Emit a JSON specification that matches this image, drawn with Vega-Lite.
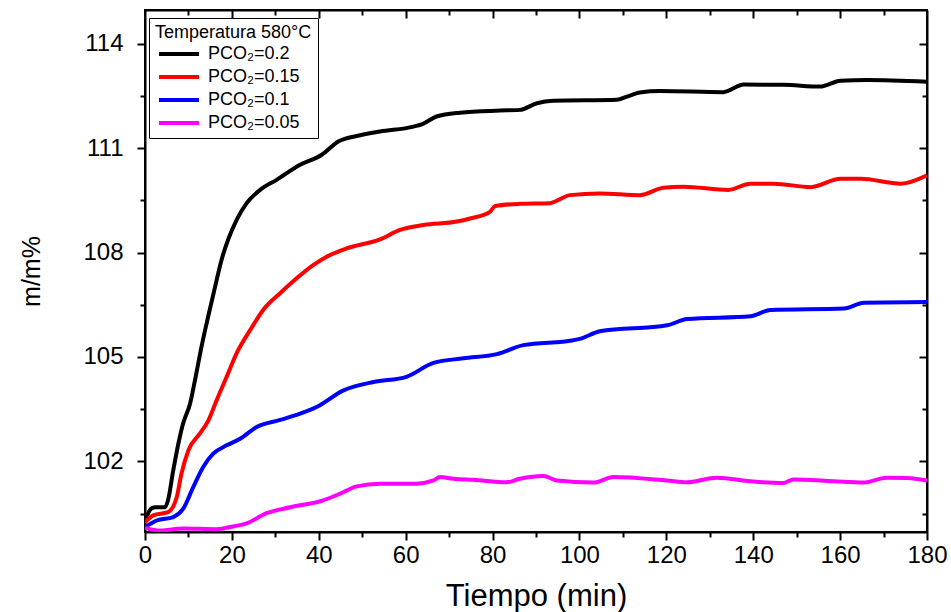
{
  "$schema": "https://vega.github.io/schema/vega-lite/v6.json",
  "width": 782,
  "height": 522,
  "autosize": {"type": "none"},
  "padding": {"left": 145, "top": 10, "right": 24, "bottom": 80},
  "background": "white",
  "config": {
    "view": {"stroke": "black", "strokeWidth": 2},
    "font": "Liberation Sans",
    "axis": {"grid": false, "domainColor": "black", "domainWidth": 2, "tickColor": "black", "tickWidth": 2, "labelColor": "black", "titleColor": "black", "labelFont": "Liberation Sans", "titleFont": "Liberation Sans", "titleFontWeight": "normal"}
  },
  "data": {"values": [
    {"t": 0, "y": 100.30, "s": "PCO₂=0.2"},
    {"t": 1.5, "y": 100.65, "s": "PCO₂=0.2"},
    {"t": 2.5, "y": 100.68, "s": "PCO₂=0.2"},
    {"t": 4.6, "y": 100.68, "s": "PCO₂=0.2"},
    {"t": 5.3, "y": 100.88, "s": "PCO₂=0.2"},
    {"t": 6.5, "y": 101.74, "s": "PCO₂=0.2"},
    {"t": 7.7, "y": 102.52, "s": "PCO₂=0.2"},
    {"t": 8.8, "y": 103.10, "s": "PCO₂=0.2"},
    {"t": 10.4, "y": 103.67, "s": "PCO₂=0.2"},
    {"t": 11.5, "y": 104.33, "s": "PCO₂=0.2"},
    {"t": 13.0, "y": 105.29, "s": "PCO₂=0.2"},
    {"t": 14.5, "y": 106.14, "s": "PCO₂=0.2"},
    {"t": 16.1, "y": 107.00, "s": "PCO₂=0.2"},
    {"t": 17.6, "y": 107.78, "s": "PCO₂=0.2"},
    {"t": 19.1, "y": 108.36, "s": "PCO₂=0.2"},
    {"t": 21.1, "y": 108.94, "s": "PCO₂=0.2"},
    {"t": 23.4, "y": 109.42, "s": "PCO₂=0.2"},
    {"t": 26.5, "y": 109.80, "s": "PCO₂=0.2"},
    {"t": 30.3, "y": 110.09, "s": "PCO₂=0.2"},
    {"t": 35.7, "y": 110.52, "s": "PCO₂=0.2"},
    {"t": 40.7, "y": 110.81, "s": "PCO₂=0.2"},
    {"t": 44.5, "y": 111.19, "s": "PCO₂=0.2"},
    {"t": 48.7, "y": 111.35, "s": "PCO₂=0.2"},
    {"t": 54.1, "y": 111.48, "s": "PCO₂=0.2"},
    {"t": 61.8, "y": 111.62, "s": "PCO₂=0.2"},
    {"t": 64.0, "y": 111.70, "s": "PCO₂=0.2"},
    {"t": 67.1, "y": 111.91, "s": "PCO₂=0.2"},
    {"t": 72.5, "y": 112.02, "s": "PCO₂=0.2"},
    {"t": 81.7, "y": 112.08, "s": "PCO₂=0.2"},
    {"t": 86.3, "y": 112.10, "s": "PCO₂=0.2"},
    {"t": 90.2, "y": 112.29, "s": "PCO₂=0.2"},
    {"t": 94.0, "y": 112.36, "s": "PCO₂=0.2"},
    {"t": 108.6, "y": 112.39, "s": "PCO₂=0.2"},
    {"t": 110.9, "y": 112.48, "s": "PCO₂=0.2"},
    {"t": 113.9, "y": 112.60, "s": "PCO₂=0.2"},
    {"t": 118.5, "y": 112.64, "s": "PCO₂=0.2"},
    {"t": 133.1, "y": 112.61, "s": "PCO₂=0.2"},
    {"t": 137.8, "y": 112.83, "s": "PCO₂=0.2"},
    {"t": 147.0, "y": 112.82, "s": "PCO₂=0.2"},
    {"t": 155.4, "y": 112.77, "s": "PCO₂=0.2"},
    {"t": 160.1, "y": 112.94, "s": "PCO₂=0.2"},
    {"t": 166.2, "y": 112.96, "s": "PCO₂=0.2"},
    {"t": 180, "y": 112.91, "s": "PCO₂=0.2"},

    {"t": 0, "y": 100.25, "s": "PCO₂=0.15"},
    {"t": 1.9, "y": 100.45, "s": "PCO₂=0.15"},
    {"t": 5.3, "y": 100.54, "s": "PCO₂=0.15"},
    {"t": 7.3, "y": 100.97, "s": "PCO₂=0.15"},
    {"t": 8.4, "y": 101.65, "s": "PCO₂=0.15"},
    {"t": 10.0, "y": 102.32, "s": "PCO₂=0.15"},
    {"t": 12.7, "y": 102.81, "s": "PCO₂=0.15"},
    {"t": 14.6, "y": 103.18, "s": "PCO₂=0.15"},
    {"t": 16.5, "y": 103.76, "s": "PCO₂=0.15"},
    {"t": 18.8, "y": 104.43, "s": "PCO₂=0.15"},
    {"t": 21.1, "y": 105.11, "s": "PCO₂=0.15"},
    {"t": 24.2, "y": 105.77, "s": "PCO₂=0.15"},
    {"t": 27.2, "y": 106.35, "s": "PCO₂=0.15"},
    {"t": 31.1, "y": 106.83, "s": "PCO₂=0.15"},
    {"t": 34.9, "y": 107.26, "s": "PCO₂=0.15"},
    {"t": 38.7, "y": 107.64, "s": "PCO₂=0.15"},
    {"t": 42.6, "y": 107.93, "s": "PCO₂=0.15"},
    {"t": 46.4, "y": 108.12, "s": "PCO₂=0.15"},
    {"t": 54.1, "y": 108.38, "s": "PCO₂=0.15"},
    {"t": 58.7, "y": 108.65, "s": "PCO₂=0.15"},
    {"t": 64.1, "y": 108.79, "s": "PCO₂=0.15"},
    {"t": 71.8, "y": 108.89, "s": "PCO₂=0.15"},
    {"t": 74.8, "y": 108.98, "s": "PCO₂=0.15"},
    {"t": 79.4, "y": 109.17, "s": "PCO₂=0.15"},
    {"t": 80.6, "y": 109.34, "s": "PCO₂=0.15"},
    {"t": 86.3, "y": 109.40, "s": "PCO₂=0.15"},
    {"t": 93.2, "y": 109.42, "s": "PCO₂=0.15"},
    {"t": 97.8, "y": 109.65, "s": "PCO₂=0.15"},
    {"t": 104.7, "y": 109.70, "s": "PCO₂=0.15"},
    {"t": 113.9, "y": 109.65, "s": "PCO₂=0.15"},
    {"t": 119.3, "y": 109.86, "s": "PCO₂=0.15"},
    {"t": 123.9, "y": 109.89, "s": "PCO₂=0.15"},
    {"t": 134.3, "y": 109.80, "s": "PCO₂=0.15"},
    {"t": 139.3, "y": 109.98, "s": "PCO₂=0.15"},
    {"t": 144.7, "y": 109.98, "s": "PCO₂=0.15"},
    {"t": 153.2, "y": 109.88, "s": "PCO₂=0.15"},
    {"t": 160.1, "y": 110.12, "s": "PCO₂=0.15"},
    {"t": 164.7, "y": 110.12, "s": "PCO₂=0.15"},
    {"t": 174.0, "y": 109.98, "s": "PCO₂=0.15"},
    {"t": 180, "y": 110.22, "s": "PCO₂=0.15"},

    {"t": 0, "y": 100.11, "s": "PCO₂=0.1"},
    {"t": 2.7, "y": 100.30, "s": "PCO₂=0.1"},
    {"t": 6.5, "y": 100.40, "s": "PCO₂=0.1"},
    {"t": 8.8, "y": 100.64, "s": "PCO₂=0.1"},
    {"t": 11.1, "y": 101.26, "s": "PCO₂=0.1"},
    {"t": 13.4, "y": 101.84, "s": "PCO₂=0.1"},
    {"t": 15.7, "y": 102.22, "s": "PCO₂=0.1"},
    {"t": 18.8, "y": 102.46, "s": "PCO₂=0.1"},
    {"t": 21.9, "y": 102.65, "s": "PCO₂=0.1"},
    {"t": 25.7, "y": 102.99, "s": "PCO₂=0.1"},
    {"t": 31.1, "y": 103.19, "s": "PCO₂=0.1"},
    {"t": 35.7, "y": 103.37, "s": "PCO₂=0.1"},
    {"t": 39.5, "y": 103.56, "s": "PCO₂=0.1"},
    {"t": 45.7, "y": 104.04, "s": "PCO₂=0.1"},
    {"t": 52.6, "y": 104.28, "s": "PCO₂=0.1"},
    {"t": 60.2, "y": 104.43, "s": "PCO₂=0.1"},
    {"t": 66.4, "y": 104.83, "s": "PCO₂=0.1"},
    {"t": 73.3, "y": 104.96, "s": "PCO₂=0.1"},
    {"t": 81.0, "y": 105.08, "s": "PCO₂=0.1"},
    {"t": 87.1, "y": 105.34, "s": "PCO₂=0.1"},
    {"t": 98.6, "y": 105.48, "s": "PCO₂=0.1"},
    {"t": 100.1, "y": 105.52, "s": "PCO₂=0.1"},
    {"t": 104.7, "y": 105.74, "s": "PCO₂=0.1"},
    {"t": 120.2, "y": 105.91, "s": "PCO₂=0.1"},
    {"t": 124.8, "y": 106.09, "s": "PCO₂=0.1"},
    {"t": 139.4, "y": 106.17, "s": "PCO₂=0.1"},
    {"t": 144.0, "y": 106.35, "s": "PCO₂=0.1"},
    {"t": 160.9, "y": 106.39, "s": "PCO₂=0.1"},
    {"t": 165.5, "y": 106.56, "s": "PCO₂=0.1"},
    {"t": 180, "y": 106.58, "s": "PCO₂=0.1"},

    {"t": 0, "y": 100.09, "s": "PCO₂=0.05"},
    {"t": 3.5, "y": 100.01, "s": "PCO₂=0.05"},
    {"t": 8.8, "y": 100.07, "s": "PCO₂=0.05"},
    {"t": 16.5, "y": 100.05, "s": "PCO₂=0.05"},
    {"t": 20.3, "y": 100.13, "s": "PCO₂=0.05"},
    {"t": 23.4, "y": 100.22, "s": "PCO₂=0.05"},
    {"t": 28.0, "y": 100.51, "s": "PCO₂=0.05"},
    {"t": 33.4, "y": 100.68, "s": "PCO₂=0.05"},
    {"t": 41.0, "y": 100.88, "s": "PCO₂=0.05"},
    {"t": 44.9, "y": 101.07, "s": "PCO₂=0.05"},
    {"t": 48.7, "y": 101.28, "s": "PCO₂=0.05"},
    {"t": 54.1, "y": 101.36, "s": "PCO₂=0.05"},
    {"t": 62.5, "y": 101.36, "s": "PCO₂=0.05"},
    {"t": 66.4, "y": 101.45, "s": "PCO₂=0.05"},
    {"t": 67.9, "y": 101.55, "s": "PCO₂=0.05"},
    {"t": 71.0, "y": 101.50, "s": "PCO₂=0.05"},
    {"t": 75.6, "y": 101.47, "s": "PCO₂=0.05"},
    {"t": 83.3, "y": 101.40, "s": "PCO₂=0.05"},
    {"t": 86.3, "y": 101.50, "s": "PCO₂=0.05"},
    {"t": 91.7, "y": 101.58, "s": "PCO₂=0.05"},
    {"t": 94.8, "y": 101.45, "s": "PCO₂=0.05"},
    {"t": 103.2, "y": 101.39, "s": "PCO₂=0.05"},
    {"t": 107.8, "y": 101.55, "s": "PCO₂=0.05"},
    {"t": 120.1, "y": 101.45, "s": "PCO₂=0.05"},
    {"t": 124.7, "y": 101.40, "s": "PCO₂=0.05"},
    {"t": 131.6, "y": 101.53, "s": "PCO₂=0.05"},
    {"t": 140.0, "y": 101.42, "s": "PCO₂=0.05"},
    {"t": 146.9, "y": 101.38, "s": "PCO₂=0.05"},
    {"t": 149.2, "y": 101.48, "s": "PCO₂=0.05"},
    {"t": 158.4, "y": 101.43, "s": "PCO₂=0.05"},
    {"t": 165.4, "y": 101.39, "s": "PCO₂=0.05"},
    {"t": 170.7, "y": 101.53, "s": "PCO₂=0.05"},
    {"t": 175.4, "y": 101.52, "s": "PCO₂=0.05"},
    {"t": 180, "y": 101.45, "s": "PCO₂=0.05"}
  ]},
  "resolve": {"axis": {"x": "independent", "y": "independent"}},
  "layer": [
    {
      "mark": {"type": "line", "strokeWidth": 4, "interpolate": "monotone", "clip": true},
      "encoding": {
        "x": {"field": "t", "type": "quantitative", "scale": {"domain": [0, 180], "nice": false, "zero": false},
          "axis": {"orient": "bottom", "values": [0, 20, 40, 60, 80, 100, 120, 140, 160, 180], "tickSize": 8, "labelFontSize": 24, "labelPadding": 3, "title": "Tiempo (min)", "titleFontSize": 31, "titlePadding": 14, "labelFlush": false}},
        "y": {"field": "y", "type": "quantitative", "scale": {"domain": [99.97, 114.97], "nice": false, "zero": false},
          "axis": {"orient": "left", "values": [102, 105, 108, 111, 114], "tickSize": 8, "labelFontSize": 24, "labelPadding": 14, "title": "m/m%", "titleFontSize": 25, "titlePadding": 38, "labelFlush": false}},
        "color": {"field": "s", "type": "nominal",
          "scale": {"domain": ["PCO₂=0.2", "PCO₂=0.15", "PCO₂=0.1", "PCO₂=0.05"], "range": ["#000000", "#ff0000", "#0000ff", "#ff00ff"]},
          "legend": {"orient": "none", "legendX": 4, "legendY": 8, "title": "Temperatura 580°C", "titleFontSize": 18, "titleFont": "Liberation Sans", "titleFontWeight": "normal", "titleColor": "black", "titlePadding": 0, "labelFontSize": 18, "labelFont": "Liberation Sans", "labelColor": "black", "symbolType": "M-2,0H2", "symbolSize": 400, "symbolStrokeWidth": 4, "symbolOffset": 12, "labelOffset": 17, "strokeColor": "black", "fillColor": "white", "padding": 6, "rowPadding": 2}}
      }
    },
    {
      "mark": {"type": "point", "opacity": 0},
      "encoding": {
        "x": {"field": "t", "type": "quantitative", "axis": {"orient": "bottom", "values": [10, 30, 50, 70, 90, 110, 130, 150, 170], "tickSize": 5, "labels": false, "title": null, "domain": false}},
        "y": {"field": "y", "type": "quantitative", "axis": {"orient": "left", "values": [100.5, 103.5, 106.5, 109.5, 112.5], "tickSize": 5, "labels": false, "title": null, "domain": false}}
      }
    },
    {
      "mark": {"type": "point", "opacity": 0},
      "encoding": {
        "x": {"field": "t", "type": "quantitative", "axis": {"orient": "top", "values": [20, 40, 60, 80, 100, 120, 140, 160], "tickSize": -8, "labels": false, "title": null}},
        "y": {"field": "y", "type": "quantitative", "axis": {"orient": "right", "values": [102, 105, 108, 111, 114], "tickSize": -8, "labels": false, "title": null}}
      }
    },
    {
      "mark": {"type": "point", "opacity": 0},
      "encoding": {
        "x": {"field": "t", "type": "quantitative", "axis": {"orient": "top", "values": [10, 30, 50, 70, 90, 110, 130, 150, 170], "tickSize": -5, "labels": false, "title": null, "domain": false}},
        "y": {"field": "y", "type": "quantitative", "axis": {"orient": "right", "values": [100.5, 103.5, 106.5, 109.5, 112.5], "tickSize": -5, "labels": false, "title": null, "domain": false}}
      }
    }
  ]
}
